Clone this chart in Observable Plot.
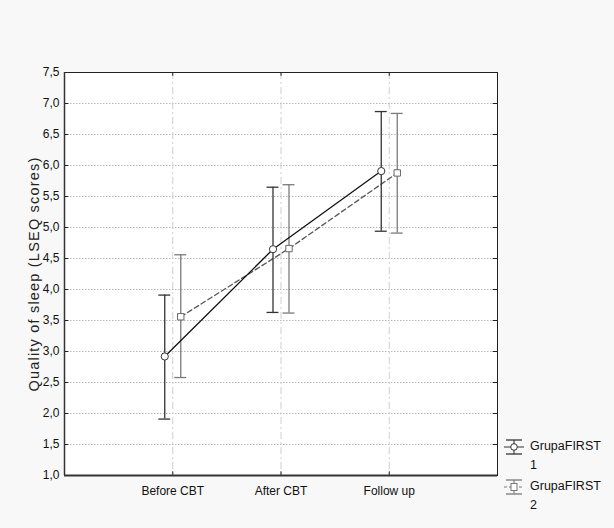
<!DOCTYPE html>
<html>
<head>
<meta charset="utf-8">
<script src="https://cdn.jsdelivr.net/npm/d3@7"></script>
<script src="https://cdn.jsdelivr.net/npm/@observablehq/plot@0.6"></script>
<style>
  html, body { margin: 0; padding: 0; background: #f8f8f8; }
  #wrap { position: relative; width: 614px; height: 528px; overflow: hidden;
          font-family: "Liberation Sans", Arial, sans-serif; }
  #legend { position: absolute; left: 503px; top: 437px; font-size: 12.5px; color: #111; line-height: 19px; }
  .item { display: flex; align-items: flex-start; margin-bottom: 2px; }
  .item svg { flex: none; margin-right: 3px; margin-top: 1px; }
  .item span { width: 72px; display: inline-block; }
</style>
</head>
<body>
<div id="wrap"></div>
<script>
// ---- data ----
const phases = ["Before CBT", "After CBT", "Follow up"];
const group1Mean = [2.92, 4.65, 5.91];
const group1Low  = [1.91, 3.63, 4.94];
const group1High = [3.91, 5.65, 6.87];
const group2Mean = [3.56, 4.66, 5.88];
const group2Low  = [2.58, 3.62, 4.91];
const group2High = [4.56, 5.69, 6.84];
const groupNames = ["GrupaFIRST 1", "GrupaFIRST 2"];
const yTicks = [1.0, 1.5, 2.0, 2.5, 3.0, 3.5, 4.0, 4.5, 5.0, 5.5, 6.0, 6.5, 7.0, 7.5];
const yTitle = "Quality of sleep (LSEQ scores)";

// ---- build table ----
const g1 = phases.map((p, i) => ({phase: p, i: i + 1, mean: group1Mean[i], lo: group1Low[i], hi: group1High[i]}));
const g2 = phases.map((p, i) => ({phase: p, i: i + 1, mean: group2Mean[i], lo: group2Low[i], hi: group2High[i]}));

const capHalf = 0.055;   // half cap width in x units
const xDomain = [0, phases.length + 1];
const yDomain = [yTicks[0], yTicks[yTicks.length - 1]];
const inner = yTicks.slice(1, -1);
const fmt = d => d.toFixed(1).replace(".", ",");

function groupMarks(data, dx, opts) {
  return [
    Plot.ruleX(data, {x: "i", y1: "lo", y2: "hi", dx, stroke: opts.bar, strokeWidth: 1.3}),
    Plot.ruleY(data, {y: "lo", x1: d => d.i - capHalf, x2: d => d.i + capHalf, dx, stroke: opts.bar, strokeWidth: 1.3}),
    Plot.ruleY(data, {y: "hi", x1: d => d.i - capHalf, x2: d => d.i + capHalf, dx, stroke: opts.bar, strokeWidth: 1.3}),
    Plot.line(data, {x: "i", y: "mean", dx, stroke: opts.line, strokeWidth: 1.3, strokeDasharray: opts.dash}),
    Plot.dot(data, {x: "i", y: "mean", dx, symbol: opts.symbol, r: opts.r, fill: "white", stroke: opts.marker, strokeWidth: 1})
  ];
}

const chart = Plot.plot({
  width: 614,
  height: 528,
  marginLeft: 64,
  marginRight: 117,
  marginTop: 72,
  marginBottom: 53,
  style: {fontFamily: "'Liberation Sans', Arial, sans-serif", fontSize: "12px", background: "transparent", color: "#111"},
  x: {domain: xDomain, ticks: [1, 2, 3], tickFormat: d => phases[d - 1], label: null},
  y: {domain: yDomain, ticks: yTicks, tickFormat: fmt, label: null},
  marks: [
    Plot.frame({fill: "white", stroke: null}),
    Plot.ruleY(inner, {stroke: "#b8b8b8", strokeDasharray: "1.5,1.5", strokeWidth: 1}),
    Plot.ruleX([1, 2, 3], {stroke: "#cfcfcf", strokeDasharray: "7,3,2,3", strokeWidth: 1}),
    // inward tick marks on the frame
    Plot.ruleY(inner, {x1: xDomain[0], x2: xDomain[0] + 0.04, stroke: "#222"}),
    Plot.ruleY(inner, {x1: xDomain[1] - 0.04, x2: xDomain[1], stroke: "#222"}),
    Plot.ruleX([1, 2, 3], {y1: yDomain[0], y2: yDomain[0] + 0.06, stroke: "#222"}),
    Plot.ruleX([1, 2, 3], {y1: yDomain[1] - 0.06, y2: yDomain[1], stroke: "#222"}),
    ...groupMarks(g2, 8, {bar: "#7a7a7a", line: "#555", dash: "5,3", marker: "#666", symbol: "square", r: 3.6}),
    ...groupMarks(g1, -8, {bar: "#333", line: "#111", dash: null, marker: "#333", symbol: "circle", r: 3.6}),
    Plot.frame({stroke: "#222", strokeWidth: 1}),
    Plot.ruleY([yDomain[0]], {stroke: "#333", strokeWidth: 2}),
    Plot.ruleX([xDomain[0]], {stroke: "#333", strokeWidth: 1.5}),
    Plot.axisX({ticks: [1, 2, 3], tickSize: 0, tickPadding: 11, tickFormat: d => phases[d - 1], label: null, fontSize: 12}),
    Plot.axisY({ticks: yTicks, tickSize: 0, tickPadding: 5, tickFormat: fmt, label: null, fontSize: 12}),
    Plot.text([yTitle], {frameAnchor: "left", textAnchor: "middle", lineAnchor: "middle", dx: -30, rotate: -90,
      fontSize: 14.5, text: d => d, fill: "#222"})
  ]
});

// letter spacing for the y title
chart.querySelectorAll("text").forEach(t => {
  if (t.textContent === yTitle) t.style.letterSpacing = "1.2px";
});

document.getElementById("wrap").appendChild(chart);

// ---- legend (HTML) ----
const legend = document.createElement("div");
legend.id = "legend";
groupNames.forEach((name, k) => {
  const item = document.createElement("div");
  item.className = "item";
  const col = k === 0 ? "#333" : "#777";
  const mark = k === 0
    ? `<circle cx="11" cy="9" r="3.3" fill="white" stroke="${col}"/>`
    : `<rect x="8" y="5.5" width="6" height="7" fill="white" stroke="${col}"/>`;
  item.innerHTML = `<svg width="24" height="20" viewBox="0 0 24 20">
      <line x1="3" x2="19" y1="2" y2="2" stroke="${col}" stroke-width="1.3"/>
      <line x1="3" x2="19" y1="16" y2="16" stroke="${col}" stroke-width="1.3"/>
      <line x1="11" x2="11" y1="2" y2="16" stroke="${col}" stroke-width="1.1"/>
      <line x1="1" x2="21" y1="9" y2="9" stroke="${col}" stroke-width="1" ${k === 1 ? 'stroke-dasharray="3,2"' : ''}/>
      ${mark}</svg><span>${name}</span>`;
  legend.appendChild(item);
});
document.getElementById("wrap").appendChild(legend);
</script>
</body>
</html>
